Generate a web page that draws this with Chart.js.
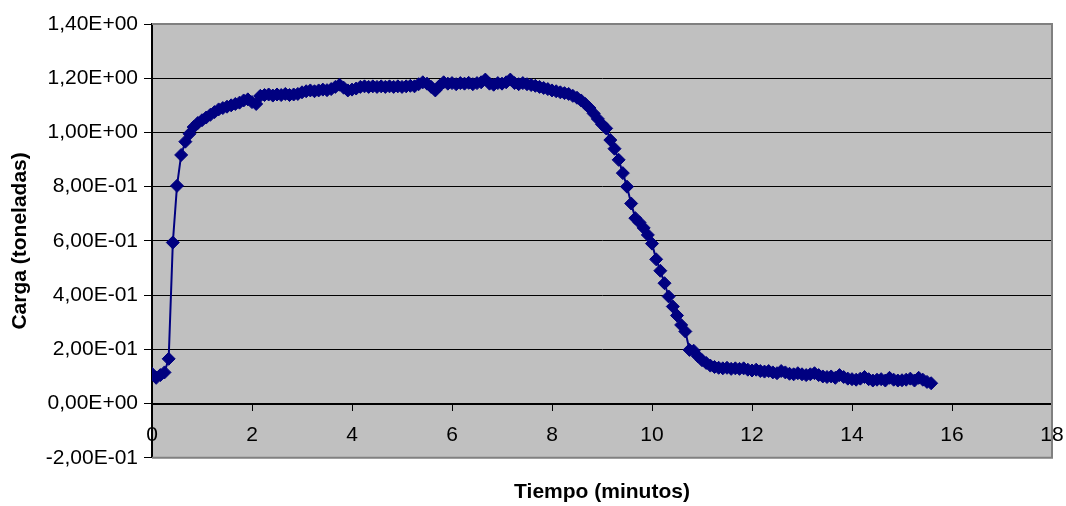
<!DOCTYPE html>
<html lang="es">
<head>
<meta charset="utf-8">
<title>Carga vs tiempo</title>
<script src="https://cdn.jsdelivr.net/npm/chart.js@4.4.1/dist/chart.umd.min.js"></script>
<style>
    html, body { margin: 0; padding: 0; background: #ffffff; }
    canvas { display: block; }
</style>
</head>
<body>
<canvas id="grafico01" width="1066" height="506"></canvas>
<script>
// Una lectura cada 5 segundos
const intervaloSegundos = 5;

// Carga medida (toneladas), en orden de lectura
const carga = [
    0.110, 0.095, 0.105, 0.115, 0.165, 0.594, 0.803, 0.917, 0.966, 0.995, 1.020, 1.035,
    1.045, 1.055, 1.065, 1.075, 1.085, 1.090, 1.095, 1.100, 1.105, 1.110, 1.118, 1.122,
    1.112, 1.105, 1.135, 1.138, 1.140, 1.136, 1.140, 1.138, 1.142, 1.138, 1.140, 1.142,
    1.148, 1.152, 1.155, 1.152, 1.155, 1.158, 1.156, 1.160, 1.168, 1.176, 1.165, 1.155,
    1.158, 1.162, 1.168, 1.170, 1.168, 1.170, 1.168, 1.170, 1.168, 1.170, 1.168, 1.170,
    1.168, 1.170, 1.172, 1.170, 1.178, 1.185, 1.180, 1.168, 1.155, 1.172, 1.185, 1.180,
    1.182, 1.178, 1.182, 1.180, 1.183, 1.178, 1.182, 1.185, 1.195, 1.180, 1.176, 1.182,
    1.180, 1.185, 1.195, 1.182, 1.178, 1.182, 1.178, 1.175, 1.172, 1.168, 1.164, 1.160,
    1.155, 1.152, 1.148, 1.145, 1.142, 1.135, 1.128, 1.118, 1.105, 1.090, 1.070, 1.050,
    1.030, 1.015, 0.972, 0.940, 0.899, 0.850, 0.800, 0.738, 0.684, 0.668, 0.648, 0.622,
    0.590, 0.532, 0.490, 0.444, 0.395, 0.358, 0.325, 0.290, 0.266, 0.198, 0.195, 0.175,
    0.160, 0.150, 0.140, 0.135, 0.132, 0.130, 0.132, 0.128, 0.130, 0.128, 0.130, 0.125,
    0.122, 0.125, 0.120, 0.118, 0.120, 0.115, 0.112, 0.120, 0.115, 0.110, 0.108, 0.112,
    0.108, 0.105, 0.108, 0.112, 0.105, 0.100, 0.098, 0.100, 0.095, 0.105, 0.098, 0.092,
    0.090, 0.088, 0.092, 0.098, 0.090, 0.085, 0.088, 0.090, 0.085, 0.095, 0.088, 0.085,
    0.086, 0.088, 0.092, 0.085, 0.095, 0.088, 0.080, 0.075
];

// Ejes
const ejeX = { min: 0, max: 18, paso: 2 };
const ejeY = { min: -0.2, max: 1.4, paso: 0.2 };

const tituloX = "Tiempo (minutos)";
const tituloY = "Carga (toneladas)";

// Formato tipo Excel: 1,40E+00
function formatoCientifico(valor) {
    const v = Math.round(Number(valor) * 1e6) / 1e6; // evita -2,78E-17 en el cero
    const partes = v.toExponential(2).split('e');
    const exp = parseInt(partes[1], 10);
    const signo = exp < 0 ? '-' : '+';
    return partes[0].replace('.', ',') + 'E' + signo + String(Math.abs(exp)).padStart(2, '0');
}

const puntos = carga.map((c, i) => ({ x: i * intervaloSegundos / 60, y: c }));

// Fondo gris del área de trazado y marco
const fondoArea = {
    id: 'fondoArea',
    beforeDraw(chart) {
        const { ctx, chartArea: a } = chart;
        ctx.save();
        ctx.fillStyle = '#c0c0c0';
        ctx.fillRect(a.left, a.top, a.right - a.left, a.bottom - a.top);
        ctx.restore();
    },
    beforeDatasetsDraw(chart) {
        const { ctx, chartArea: a } = chart;
        ctx.save();
        ctx.strokeStyle = '#808080';
        ctx.lineWidth = 2;
        ctx.beginPath();
        ctx.moveTo(a.left, a.top);
        ctx.lineTo(a.right, a.top);
        ctx.lineTo(a.right, a.bottom);
        ctx.lineTo(a.left, a.bottom);
        ctx.stroke();
        ctx.restore();
    }
};

const fuente = "'Liberation Sans', Arial, sans-serif";

var config01 = {
    type: 'line',
    data: {
        datasets: [{
            label: tituloY,
            data: puntos,
            borderColor: '#000080',
            backgroundColor: '#000080',
            borderWidth: 2,
            tension: 0,
            pointStyle: 'rectRot',
            pointRadius: 6.5,
            pointBorderWidth: 1,
            pointBackgroundColor: '#000080',
            pointBorderColor: '#000080',
        }]
    },
    options: {
        responsive: false,
        animation: false,
        layout: {
            padding: { left: 0, right: 0, top: 24, bottom: 0 }
        },
        scales: {
            x: {
                type: 'linear',
                position: { y: 0 },
                min: ejeX.min,
                max: ejeX.max,
                afterFit: (scale) => {
                    // el eje va en y=0, no necesita alto propio; margen derecho fijo
                    scale.height = 0;
                    scale.paddingLeft = 0;
                    scale.paddingRight = 14;
                },
                ticks: {
                    stepSize: ejeX.paso,
                    padding: 13,
                    color: '#000',
                    font: { family: fuente, size: 21 },
                },
                grid: {
                    drawOnChartArea: false,
                    drawTicks: true,
                    tickLength: 6,
                    color: '#000',
                },
                border: { display: true, color: '#000', width: 2 },
            },
            y: {
                type: 'linear',
                min: ejeY.min,
                max: ejeY.max,
                afterFit: (scale) => { scale.width = 152; },
                ticks: {
                    stepSize: ejeY.paso,
                    padding: 6,
                    color: '#000',
                    font: { family: fuente, size: 21 },
                    callback: (v) => formatoCientifico(v),
                },
                grid: {
                    color: '#000',
                    lineWidth: 1,
                    tickLength: 8,
                },
                border: { display: true, color: '#000', width: 2 },
                title: {
                    display: true,
                    text: tituloY,
                    color: '#000',
                    font: { family: fuente, size: 21, weight: 'bold' },
                    padding: { top: 8, bottom: 0 },
                },
            },
        },
        plugins: {
            legend: { display: false },
            tooltip: { enabled: false },
            title: {
                display: true,
                position: 'bottom',
                fullSize: false,
                text: tituloX,
                color: '#000',
                font: { family: fuente, size: 21, weight: 'bold' },
                padding: { top: 22, bottom: 1 },
            },
        },
    },
    plugins: [fondoArea],
};

var ctx = document.getElementById("grafico01").getContext("2d");
new Chart(ctx, config01);
</script>
</body>
</html>
